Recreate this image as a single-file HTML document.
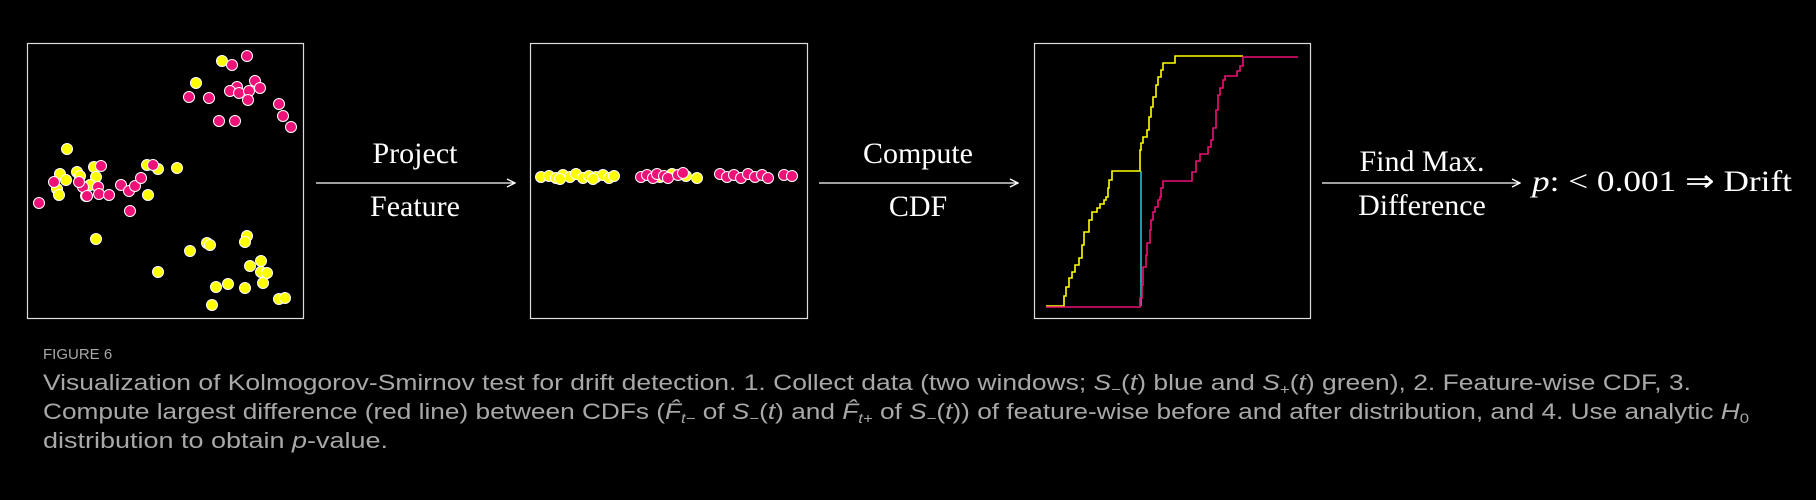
<!DOCTYPE html>
<html><head><meta charset="utf-8"><style>
html,body{margin:0;padding:0;background:#000;width:1816px;height:500px;overflow:hidden}
svg{display:block}
</style></head><body>
<svg width="1816" height="500" viewBox="0 0 1816 500" xmlns="http://www.w3.org/2000/svg">
<rect width="1816" height="500" fill="#000"/>
<defs><marker id="ah" markerWidth="10" markerHeight="10" refX="9" refY="5" orient="auto" markerUnits="userSpaceOnUse"><path d="M1,1 L9,5 L1,9" fill="none" stroke="#fff" stroke-width="1.3"/></marker></defs>
<!-- boxes -->
<rect x="27.5" y="43.5" width="276" height="275" fill="none" stroke="#ddd" stroke-width="1.2"/>
<rect x="530.5" y="43.5" width="277" height="275" fill="none" stroke="#ddd" stroke-width="1.2"/>
<rect x="1034.5" y="43.5" width="276" height="275" fill="none" stroke="#ddd" stroke-width="1.2"/>
<!-- arrows -->
<g stroke="#fff" stroke-width="1.3">
<line x1="316" y1="183" x2="515" y2="183" marker-end="url(#ah)"/>
<line x1="819" y1="183" x2="1018" y2="183" marker-end="url(#ah)"/>
<line x1="1322" y1="183" x2="1520" y2="183" marker-end="url(#ah)"/>
</g>
<g fill="#fff" font-family="Liberation Serif, serif" font-size="30" text-anchor="middle">
<text x="415" y="163">Project</text>
<text x="415" y="216">Feature</text>
<text x="918" y="163">Compute</text>
<text x="918" y="216">CDF</text>
<text x="1422" y="171">Find Max.</text>
<text x="1422" y="215">Difference</text>
<text x="1532" y="191" text-anchor="start" textLength="260" lengthAdjust="spacingAndGlyphs"><tspan font-style="italic">p</tspan>: &lt; 0.001 ⇒ Drift</text>
</g>
<!-- scatter -->
<g stroke="#fff" stroke-width="1" id="sc">
<g fill="#ffff00">
<circle cx="222" cy="61" r="5.5"/><circle cx="196" cy="83" r="5.5"/><circle cx="67" cy="149" r="5.5"/><circle cx="60" cy="174" r="5.5"/><circle cx="66" cy="180" r="5.5"/><circle cx="57" cy="189" r="5.5"/><circle cx="59" cy="195" r="5.5"/><circle cx="77" cy="172" r="5.5"/><circle cx="80" cy="176" r="5.5"/><circle cx="94" cy="167" r="5.5"/><circle cx="96" cy="177" r="5.5"/><circle cx="86" cy="196" r="5.5"/><circle cx="147" cy="165" r="5.5"/><circle cx="158" cy="169" r="5.5"/><circle cx="177" cy="168" r="5.5"/><circle cx="148" cy="195" r="5.5"/><circle cx="96" cy="239" r="5.5"/><circle cx="207" cy="243" r="5.5"/><circle cx="210" cy="245" r="5.5"/><circle cx="190" cy="251" r="5.5"/><circle cx="247" cy="236" r="5.5"/><circle cx="245" cy="242" r="5.5"/><circle cx="158" cy="272" r="5.5"/><circle cx="250" cy="266" r="5.5"/><circle cx="261" cy="261" r="5.5"/><circle cx="261" cy="272" r="5.5"/><circle cx="267" cy="273" r="5.5"/><circle cx="263" cy="283" r="5.5"/><circle cx="216" cy="287" r="5.5"/><circle cx="228" cy="284" r="5.5"/><circle cx="245" cy="288" r="5.5"/><circle cx="212" cy="305" r="5.5"/><circle cx="279" cy="299" r="5.5"/><circle cx="285" cy="298" r="5.5"/><circle cx="90" cy="185" r="5.5"/>
</g>
<g fill="#ee1177">
<circle cx="247" cy="56" r="5.5"/><circle cx="232" cy="65" r="5.5"/><circle cx="237" cy="87" r="5.5"/><circle cx="230" cy="91" r="5.5"/><circle cx="239" cy="93" r="5.5"/><circle cx="249" cy="91" r="5.5"/><circle cx="255" cy="81" r="5.5"/><circle cx="260" cy="88" r="5.5"/><circle cx="248" cy="100" r="5.5"/><circle cx="189" cy="97" r="5.5"/><circle cx="209" cy="98" r="5.5"/><circle cx="219" cy="121" r="5.5"/><circle cx="235" cy="121" r="5.5"/><circle cx="279" cy="104" r="5.5"/><circle cx="283" cy="116" r="5.5"/><circle cx="291" cy="127" r="5.5"/><circle cx="39" cy="203" r="5.5"/><circle cx="54" cy="182" r="5.5"/><circle cx="83" cy="187" r="5.5"/><circle cx="79" cy="182" r="5.5"/><circle cx="87" cy="196" r="5.5"/><circle cx="98" cy="187" r="5.5"/><circle cx="99" cy="194" r="5.5"/><circle cx="109" cy="195" r="5.5"/><circle cx="101" cy="166" r="5.5"/><circle cx="121" cy="185" r="5.5"/><circle cx="129" cy="191" r="5.5"/><circle cx="135" cy="186" r="5.5"/><circle cx="141" cy="178" r="5.5"/><circle cx="153" cy="165" r="5.5"/><circle cx="130" cy="211" r="5.5"/>
</g>
<!-- projection -->
<g fill="#ffff00">
<circle cx="541" cy="177" r="5.5"/><circle cx="549" cy="176" r="5.5"/><circle cx="556" cy="178" r="5.5"/><circle cx="563" cy="175" r="5.5"/><circle cx="570" cy="177" r="5.5"/><circle cx="576" cy="174" r="5.5"/><circle cx="583" cy="178" r="5.5"/><circle cx="589" cy="176" r="5.5"/><circle cx="596" cy="177" r="5.5"/><circle cx="603" cy="175" r="5.5"/><circle cx="609" cy="178" r="5.5"/><circle cx="614" cy="176" r="5.5"/><circle cx="560" cy="179" r="5.5"/><circle cx="593" cy="179" r="5.5"/>
<circle cx="660" cy="177" r="5.5"/><circle cx="672" cy="174" r="5.5"/><circle cx="686" cy="176" r="5.5"/><circle cx="697" cy="178" r="5.5"/>
</g>
<g fill="#ee1177">
<circle cx="641" cy="177" r="5.5"/><circle cx="647" cy="175" r="5.5"/><circle cx="653" cy="178" r="5.5"/><circle cx="657" cy="174" r="5.5"/><circle cx="664" cy="176" r="5.5"/><circle cx="668" cy="178" r="5.5"/><circle cx="678" cy="175" r="5.5"/><circle cx="683" cy="173" r="5.5"/>
<circle cx="720" cy="174" r="5.5"/><circle cx="727" cy="177" r="5.5"/><circle cx="734" cy="175" r="5.5"/><circle cx="741" cy="178" r="5.5"/><circle cx="748" cy="174" r="5.5"/><circle cx="755" cy="177" r="5.5"/><circle cx="762" cy="175" r="5.5"/><circle cx="768" cy="178" r="5.5"/><circle cx="784" cy="175" r="5.5"/><circle cx="792" cy="176" r="5.5"/>
</g>
</g>
<!-- CDFs -->
<line x1="1141" y1="171" x2="1141" y2="306" stroke="#22ccdd" stroke-width="1.5"/>
<path d="M1046 306 H1064 V296 H1066 V287 H1069 V278 H1072 V272 H1075 V265 H1079 V258 H1082 V245 H1084 V232 H1089 V220 H1092 V212 H1097 V208 H1100 V204 H1104 V200 H1106 V197 H1108 V188 H1109 V180 H1112 V171 H1140 V150 H1141 V143 H1143 V137 H1147 V130 H1149 V117 H1151 V107 H1153 V97 H1156 V85 H1158 V77 H1161 V70 H1163 V63 H1175 V56 H1243" fill="none" stroke="#ffff00" stroke-width="1.6"/>
<path d="M1046 307 H1140 V298 H1142 V285 H1143 V267 H1146 V255 H1147 V243 H1150 V230 H1151 V220 H1153 V212 H1155 V207 H1158 V200 H1160 V197 H1161 V188 H1163 V181 H1192 V172 H1196 V161 H1200 V154 H1208 V147 H1211 V140 H1213 V128 H1216 V110 H1218 V95 H1220 V88 H1223 V80 H1225 V76 H1237 V71 H1240 V66 H1243 V57 H1298" fill="none" stroke="#ee1177" stroke-width="1.6"/>
<!-- caption -->
<g font-family="Liberation Sans, sans-serif" fill="#a8a8a8">
<text x="43" y="359" font-size="15">FIGURE 6</text>
<text x="43" y="390" font-size="22" textLength="1648" lengthAdjust="spacingAndGlyphs">Visualization of Kolmogorov-Smirnov test for drift detection. 1. Collect data (two windows; <tspan font-style="italic">S</tspan><tspan font-size="14" dy="4">−</tspan><tspan dy="-4">(</tspan><tspan font-style="italic">t</tspan>) blue and <tspan font-style="italic">S</tspan><tspan font-size="14" dy="4">+</tspan><tspan dy="-4">(</tspan><tspan font-style="italic">t</tspan>) green), 2. Feature-wise CDF, 3.</text>
<text x="43" y="419" font-size="22" textLength="1706" lengthAdjust="spacingAndGlyphs">Compute largest difference (red line) between CDFs (<tspan font-style="italic">F̂</tspan><tspan font-size="14" dy="4" font-style="italic">t−</tspan><tspan dy="-4"> of </tspan><tspan font-style="italic">S</tspan><tspan font-size="14" dy="4">−</tspan><tspan dy="-4">(</tspan><tspan font-style="italic">t</tspan>) and <tspan font-style="italic">F̂</tspan><tspan font-size="14" dy="4" font-style="italic">t+</tspan><tspan dy="-4"> of </tspan><tspan font-style="italic">S</tspan><tspan font-size="14" dy="4">−</tspan><tspan dy="-4">(</tspan><tspan font-style="italic">t</tspan>)) of feature-wise before and after distribution, and 4. Use analytic <tspan font-style="italic">H</tspan><tspan font-size="14" dy="4">0</tspan></text>
<text x="43" y="448" font-size="22" textLength="345" lengthAdjust="spacingAndGlyphs">distribution to obtain <tspan font-style="italic">p</tspan>-value.</text>
</g>
</svg>
</body></html>
